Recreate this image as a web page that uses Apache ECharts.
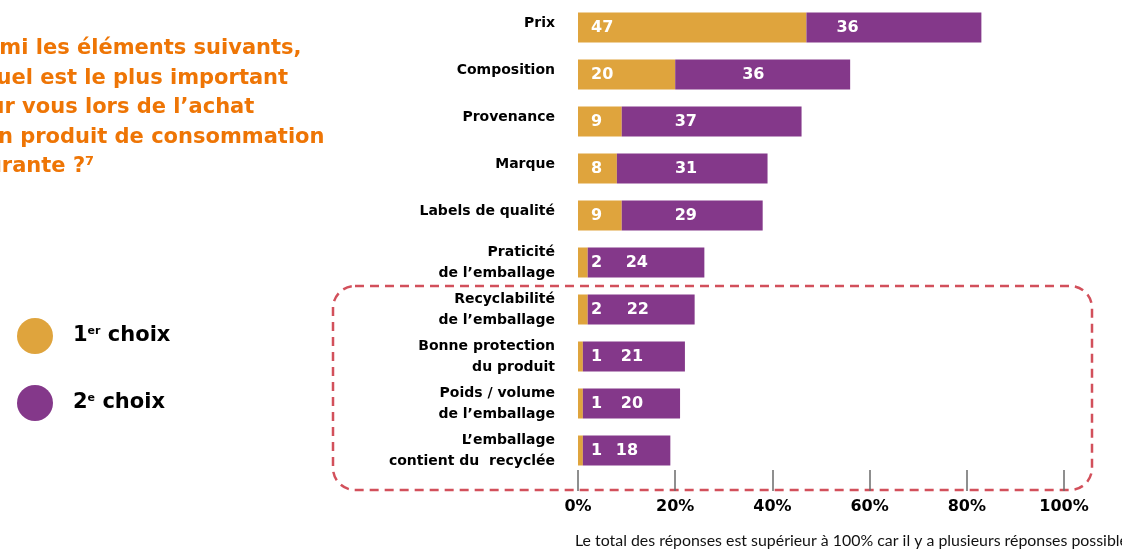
<!DOCTYPE html>
<html>
<head>
<meta charset="utf-8">
<script src="https://cdn.jsdelivr.net/npm/echarts@6/dist/echarts.min.js"></script>
<style>
  html, body { margin: 0; padding: 0; background: #fff; }
  #chart { width: 1122px; height: 550px; }
</style>
</head>
<body>
<div id="chart"></div>
<script>
const categories = [
  'Prix',
  'Composition',
  'Provenance',
  'Marque',
  'Labels de qualité',
  'Praticité\nde l’emballage',
  'Recyclabilité\nde l’emballage',
  'Bonne protection\ndu produit',
  'Poids / volume\nde l’emballage',
  'L’emballage\ncontient du  recyclée'
]
const premierChoix = [47, 20, 9, 8, 9, 2, 2, 1, 1, 1]
const deuxiemeChoix = [36, 36, 37, 31, 29, 24, 22, 21, 20, 18]
const tickValues = [0, 20, 40, 60, 80, 100]

// décalage des étiquettes violettes (à la main, comme sur l'original)
const labelShift = [30, 67, 53, 58, 53, 38, 39, 38, 38, 33]

const ORANGE = '#EE7505'
const JAUNE = '#DFA43D'
const VIOLET = '#84388A'
const FONT = '"DejaVu Sans"'

const chart = echarts.init(document.getElementById('chart'))

const option = {
  animation: false,
  grid: { left: 578, right: 58, top: 4, bottom: 76 },
  legend: {
    orient: 'vertical',
    left: 17,
    top: 318,
    padding: 0,
    itemWidth: 36,
    itemHeight: 36,
    itemGap: 31,
    icon: 'circle',
    data: ['1er choix', '2e choix'],
    formatter: name => name === '1er choix'
      ? '{g|}{n|1}{s|er}{n| choix}'
      : '{g|}{n|2}{s|e}{n| choix}',
    textStyle: {
      rich: {
        g: { width: 15 },
        n: { fontFamily: FONT, fontWeight: 'bold', fontSize: 21, color: '#000' },
        s: { fontFamily: FONT, fontWeight: 'bold', fontSize: 11, color: '#000', padding: [0, 0, 10, 0] }
      }
    }
  },
  xAxis: {
    type: 'value',
    min: 0,
    max: 100,
    interval: 20,
    offset: -4,
    splitLine: { show: false },
    axisLine: { show: false },
    axisTick: { show: true, length: 21, lineStyle: { color: '#6b6b6b', width: 1.5 } },
    axisLabel: {
      margin: 29,
      formatter: v => tickValues.includes(v) ? v + '%' : '',
      fontFamily: FONT,
      fontWeight: 'bold',
      fontSize: 16,
      color: '#000'
    }
  },
  yAxis: {
    type: 'category',
    inverse: true,
    data: categories,
    axisLine: { show: false },
    axisTick: { show: false },
    axisLabel: {
      margin: 23,
      fontFamily: FONT,
      fontWeight: 'bold',
      fontSize: 14,
      lineHeight: 21,
      color: '#000',
      // les libellés sur une ligne sont un peu remontés
      formatter: v => v.includes('\n') ? v : '{u|' + v + '}',
      rich: {
        u: { fontFamily: FONT, fontWeight: 'bold', fontSize: 14, color: '#000', padding: [0, 0, 9, 0] }
      }
    }
  },
  series: [
    {
      name: '1er choix',
      type: 'bar',
      stack: 'total',
      barWidth: 30,
      itemStyle: { color: JAUNE },
      label: {
        show: true,
        position: 'insideLeft',
        distance: 13,
        color: '#fff',
        fontFamily: FONT,
        fontWeight: 'bold',
        fontSize: 16
      },
      data: premierChoix
    },
    {
      name: '2e choix',
      type: 'bar',
      stack: 'total',
      barWidth: 30,
      itemStyle: { color: VIOLET },
      data: deuxiemeChoix.map((v, i) => ({
        value: v,
        label: {
          show: true,
          position: 'insideLeft',
          distance: 0,
          offset: [labelShift[i], 0],
          color: '#fff',
          fontFamily: FONT,
          fontWeight: 'bold',
          fontSize: 16
        }
      }))
    }
  ],
  graphic: [
    {
      type: 'text',
      left: -40,
      top: 34,
      style: {
        text: 'Parmi les éléments suivants,\nlequel est le plus important\npour vous lors de l’achat\nd’un produit de consommation\ncourante ?\u2077',
        fill: ORANGE,
        font: 'bold 21px ' + FONT,
        lineHeight: 29.5
      }
    },
    {
      type: 'rect',
      shape: { x: 333, y: 286, width: 759, height: 204, r: 22 },
      style: { fill: 'none', stroke: '#D2505B', lineWidth: 2.5, lineDash: [9, 6] },
      z: 0
    },
    {
      type: 'text',
      left: 575,
      top: 533,
      style: {
        text: 'Le total des réponses est supérieur à 100% car il y a plusieurs réponses possibles',
        fill: '#111',
        font: '15.9px Lato'
      }
    }
  ]
}

chart.setOption(option)
window.addEventListener('resize', () => chart.resize())
</script>
</body>
</html>
